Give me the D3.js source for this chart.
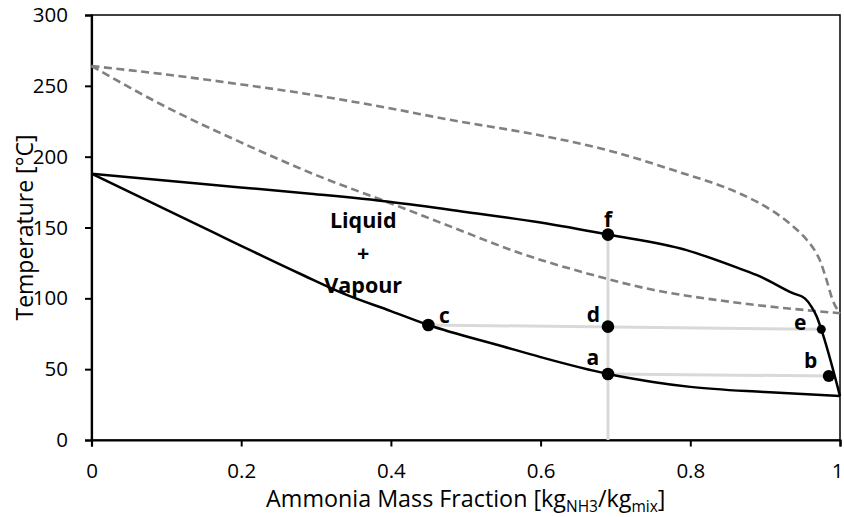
<!DOCTYPE html>
<html>
<head>
<meta charset="utf-8">
<script src="https://cdn.jsdelivr.net/npm/d3@7"></script>
<style>
    body { margin: 0; background: #fff; }
    svg { display: block; font-family: "Open Sans", "Noto Sans", sans-serif; }
</style>
</head>
<body>
<div id="chart"></div>
<script>

// bubble (lower) and dew (upper) lines, solid black
const bubbleX = [0, 0.142, 0.28, 0.336, 0.4, 0.45, 0.55, 0.6, 0.69, 0.75, 0.8, 0.9, 1];
const bubbleT = [188, 151.8, 117, 103.5, 91, 81.2, 66, 58.5, 46.6, 41, 37.5, 33.8, 31];

const dewX = [0, 0.142, 0.289, 0.4, 0.5, 0.6, 0.69, 0.795, 0.866, 0.893, 0.937, 0.953, 0.962, 0.969, 0.975, 1];
const dewT = [188, 181, 174, 168, 161, 153.5, 145, 134, 121, 115.5, 103.6, 100, 94, 87, 78.1, 31];

// gray dashed curves
const dashUpX = [0, 0.1, 0.2, 0.279, 0.4, 0.479, 0.6, 0.679, 0.78, 0.866, 0.893, 0.93, 0.956, 0.966, 0.973, 0.982, 0.99, 1];
const dashUpT = [264, 258, 251, 245, 234, 226, 215, 206, 190, 174, 167, 154, 141, 134, 127, 113, 99, 89.5];

const dashLowX = [0, 0.1, 0.2, 0.3, 0.4, 0.483, 0.572, 0.662, 0.75, 0.84, 0.893, 1];
const dashLowT = [264, 235, 210, 187, 167, 150, 132, 117.6, 106, 98.5, 95, 89.5];

// state points
const pointNames = ["f", "d", "a", "c", "e", "b"];
const pointX = [0.69, 0.69, 0.69, 0.45, 0.975, 0.985];
const pointT = [145, 80, 46.6, 81.2, 78.1, 45.2];

// light gray construction lines [x1, t1, x2, t2]
const tieLines = [
    [0.69, 145, 0.69, 0],
    [0.45, 81.2, 0.975, 78.1],
    [0.69, 46.6, 0.985, 45.2]
];

const xTicks = [0, 0.2, 0.4, 0.6, 0.8, 1];
const xTickLabels = ["0", "0.2", "0.4", "0.6", "0.8", "1"];
const yTicks = [0, 50, 100, 150, 200, 250, 300];

const regionLines = ["Liquid", "+", "Vapour"];
const regionPos = [0.363, 150];


let width = 844, height = 517;
let margin = {top: 15, right: 4, bottom: 77, left: 91.5};

let svg = d3.select("#chart").append("svg")
    .attr("width", width)
    .attr("height", height);

let x = d3.scaleLinear().domain([0, 1]).range([margin.left, width - margin.right]);
let y = d3.scaleLinear().domain([0, 300]).range([height - margin.bottom, margin.top]);

// plot border
svg.append("rect")
    .attr("x", x(0)).attr("y", y(300))
    .attr("width", x(1) - x(0)).attr("height", y(0) - y(300))
    .attr("fill", "none").attr("stroke", "#000").attr("stroke-width", 1.5);

// axes
let xAxis = svg.append("g")
    .attr("transform", `translate(0, ${y(0)})`)
    .call(d3.axisBottom(x).tickValues(xTicks).tickFormat((d, i) => xTickLabels[i]).tickSize(6.5).tickPadding(17));

let yAxis = svg.append("g")
    .attr("transform", `translate(${x(0)}, 0)`)
    .call(d3.axisLeft(y).tickValues(yTicks).tickSize(6.5).tickPadding(17));

[xAxis, yAxis].forEach(g => {
    g.select(".domain").attr("stroke", "#000").attr("stroke-width", 2.2);
    g.selectAll(".tick line").attr("stroke", "#000").attr("stroke-width", 2);
    g.selectAll(".tick text").attr("fill", "#000")
        .style("font-size", "20.5px")
        .style("font-family", "'Open Sans', sans-serif");
});

// keep the last x label inside the picture
xAxis.selectAll(".tick text").filter(d => d === 1).attr("dx", -3);

// axis titles
svg.append("text")
    .attr("transform", `translate(33, ${(y(0) + y(300)) / 2}) rotate(-90)`)
    .attr("text-anchor", "middle")
    .style("font-size", "23px")
    .text("Temperature [°C]");

let xTitle = svg.append("text")
    .attr("x", (x(0) + x(1)) / 2)
    .attr("y", 507)
    .attr("text-anchor", "middle")
    .style("font-size", "23.3px");
xTitle.append("tspan").text("Ammonia Mass Fraction [kg");
xTitle.append("tspan").attr("dy", 5).style("font-size", "15.5px").text("NH3");
xTitle.append("tspan").attr("dy", -5).text("/kg");
xTitle.append("tspan").attr("dy", 5).style("font-size", "15.5px").text("mix");
xTitle.append("tspan").attr("dy", -5).text("]");

// construction lines
svg.append("g").selectAll("line")
    .data(tieLines)
    .enter().append("line")
    .attr("x1", d => x(d[0])).attr("y1", d => y(d[1]))
    .attr("x2", d => x(d[2])).attr("y2", d => y(d[3]))
    .attr("stroke", "#d9d9d9").attr("stroke-width", 3);

let line = d3.line()
    .x(d => x(d[0]))
    .y(d => y(d[1]))
    .curve(d3.curveMonotoneX);

let zip = (xs, ts) => xs.map((v, i) => [v, ts[i]]);

// dashed curves
[zip(dashUpX, dashUpT), zip(dashLowX, dashLowT)].forEach(pts => {
    svg.append("path")
        .attr("d", line(pts))
        .attr("fill", "none")
        .attr("stroke", "#808080")
        .attr("stroke-width", 2.6)
        .attr("stroke-dasharray", "8,4.5");
});

// saturation curves
[zip(bubbleX, bubbleT), zip(dewX, dewT)].forEach(pts => {
    svg.append("path")
        .attr("d", line(pts))
        .attr("fill", "none")
        .attr("stroke", "#000")
        .attr("stroke-width", 2.5);
});

// points + labels
let labelOffset = {f: [0, -8], d: [-14.5, -5], a: [-15, -9], c: [16, -2], e: [-21, 1], b: [-18, -8]};
let pointR = {f: 6.3, d: 6.3, a: 6.3, c: 6.3, e: 4.5, b: 6};

let pts = pointNames.map((n, i) => ({name: n, x: pointX[i], t: pointT[i]}));

svg.append("g").selectAll("circle")
    .data(pts)
    .enter().append("circle")
    .attr("cx", d => x(d.x))
    .attr("cy", d => y(d.t))
    .attr("r", d => pointR[d.name])
    .attr("fill", "#000");

svg.append("g").selectAll("text")
    .data(pts)
    .enter().append("text")
    .attr("x", d => x(d.x) + labelOffset[d.name][0])
    .attr("y", d => y(d.t) + labelOffset[d.name][1])
    .attr("text-anchor", "middle")
    .style("font-size", "21px")
    .style("font-weight", "bold")
    .text(d => d.name);

// region annotation
svg.append("g").selectAll("text")
    .data(regionLines)
    .enter().append("text")
    .attr("x", x(regionPos[0]))
    .attr("y", (d, i) => y(regionPos[1]) + [0, 33, 65][i])
    .attr("text-anchor", "middle")
    .style("font-size", "21.5px")
    .style("font-weight", "bold")
    .text(d => d);

</script>
</body>
</html>
